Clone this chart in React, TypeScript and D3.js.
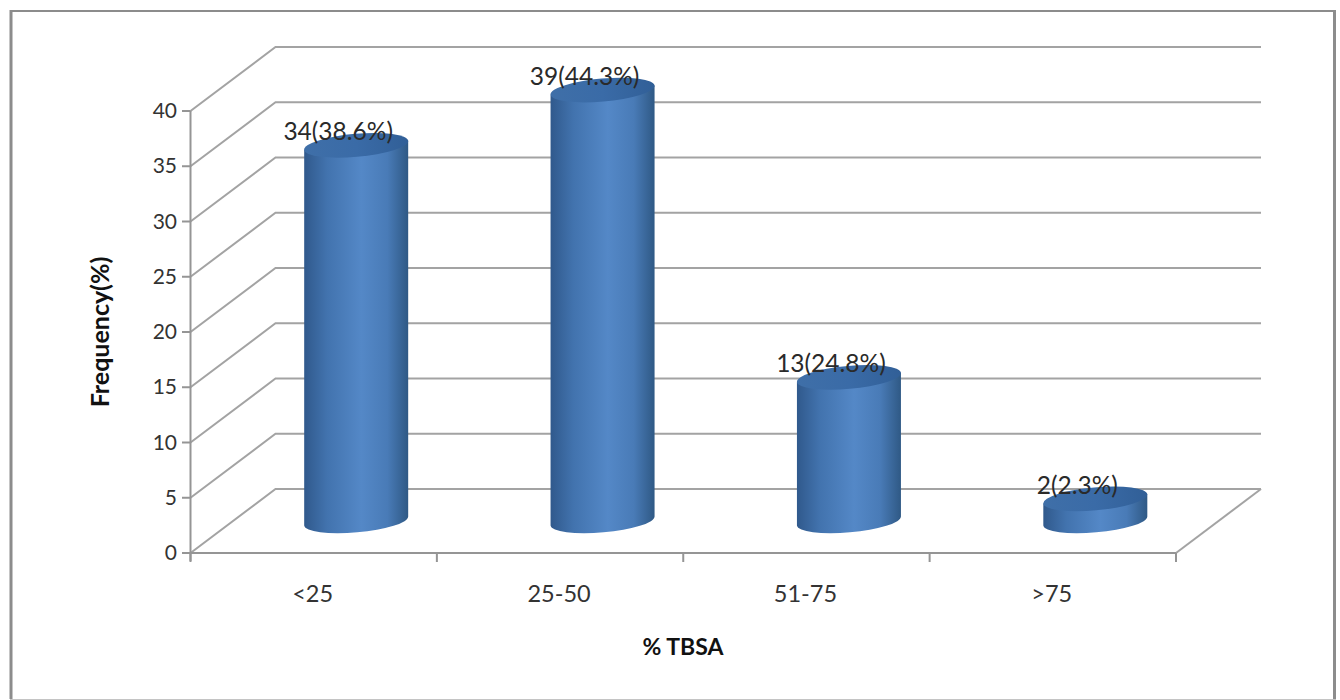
import React from "react";
import * as d3 from "d3";

const categories = ["<25", "25-50", "51-75", ">75"];
const frequencies = [34, 39, 13, 2];
const valueLabels = ["34(38.6%)", "39(44.3%)", "13(24.8%)", "2(2.3%)"];
const yTicks = [0, 5, 10, 15, 20, 25, 30, 35, 40];

const FONT = "Lato, 'Open Sans', sans-serif";
const GRID = "#a3a3a3";
const AXIS = "#959595";
const depthX = 85;
const depthY = -64;

const x = d3.scaleBand<string>().domain(categories).range([190.5, 1176]).paddingInner(0).paddingOuter(0);
const y = d3.scaleLinear().domain([0, 40]).range([553, 111]);

const left = x(categories[0])!;
const right = 1176;
const barHalf = 52;
const tilt = -5;
const ry = 11.5;

export default function App() {
  return (
    <svg
      width={1340}
      height={700}
      style={{ position: "absolute", left: 0, top: 0, background: "#fff", display: "block" }}
      fontFamily={FONT}
    >
      <defs>
        <linearGradient id="side" x1="0" x2="1" y1="0" y2="0">
          <stop offset="0" stopColor="#30598c" />
          <stop offset="0.22" stopColor="#4273ae" />
          <stop offset="0.55" stopColor="#5488c7" />
          <stop offset="0.8" stopColor="#497bb7" />
          <stop offset="1" stopColor="#2f5985" />
        </linearGradient>
        <linearGradient id="cap" x1="0" x2="1" y1="0" y2="0">
          <stop offset="0" stopColor="#3f6fa8" />
          <stop offset="0.5" stopColor="#3a6ba7" />
          <stop offset="1" stopColor="#315f97" />
        </linearGradient>
      </defs>

      {/* frame; its lower edge is faint and sits at the very bottom of the page */}
      <rect x={0} y={0} width={1340} height={700} fill="#fff" />
      <line x1={11} x2={11} y1={10} y2={699} stroke="#8c8c8c" strokeWidth={3} />
      <line x1={10} x2={1336} y1={11} y2={11} stroke="#8c8c8c" strokeWidth={2} />
      <line x1={1334.5} x2={1334.5} y1={10} y2={699} stroke="#8c8c8c" strokeWidth={3} />
      <line x1={10} x2={1336} y1={699.5} y2={699.5} stroke="#c4c4c4" strokeWidth={1} />

      {/* back wall gridlines and their diagonals across the side wall */}
      {yTicks.map((t) => (
        <polyline
          key={t}
          points={`${left},${y(t)} ${left + depthX},${y(t) + depthY} 1261,${y(t) + depthY}`}
          fill="none"
          stroke={GRID}
          strokeWidth={2}
        />
      ))}
      {/* floor edge on the right */}
      <polyline points={`1261,${y(0) + depthY} ${right},${y(0)}`} fill="none" stroke={GRID} strokeWidth={2} />

      {/* axes */}
      <line x1={left} x2={left} y1={y(40)} y2={y(0) + 8} stroke={AXIS} strokeWidth={2} />
      <line x1={182} x2={right} y1={y(0)} y2={y(0)} stroke={AXIS} strokeWidth={2} />
      {yTicks.map((t) => (
        <g key={t}>
          <line x1={182} x2={left} y1={y(t)} y2={y(t)} stroke={AXIS} strokeWidth={2} />
          <text x={177} y={y(t) + 7} textAnchor="end" fontSize={21} fill="#333">
            {t}
          </text>
        </g>
      ))}
      {categories.map((c) => (
        <line key={c} x1={x(c)!} x2={x(c)!} y1={y(0)} y2={y(0) + 9} stroke={AXIS} strokeWidth={2} />
      ))}
      <line x1={right} x2={right} y1={y(0)} y2={y(0) + 9} stroke={AXIS} strokeWidth={2} />
      {categories.map((c) => (
        <text
          key={c}
          x={x(c)! + x.bandwidth() / 2 - 1}
          y={602}
          textAnchor="middle"
          fontSize={23.5}
          fill="#333"
        >
          {c}
        </text>
      ))}

      {/* cylinders, standing halfway into the floor depth */}
      {categories.map((c, i) => {
        const cx = x(c)! + x.bandwidth() / 2 + depthX / 2;
        const baseY = y(0) + depthY / 2;
        const topY = y(frequencies[i]) + depthY / 2;
        const dy = barHalf * Math.tan((-tilt * Math.PI) / 180);
        const side =
          `M${cx - barHalf},${topY + dy} L${cx - barHalf},${baseY + dy} ` +
          `A${barHalf + 0.2},${ry} ${tilt} 0 0 ${cx + barHalf},${baseY - dy} ` +
          `L${cx + barHalf},${topY - dy} Z`;
        return (
          <g key={c}>
            <path d={side} fill="url(#side)" />
            <ellipse
              cx={cx}
              cy={topY}
              rx={barHalf + 0.2}
              ry={ry}
              fill="url(#cap)"
              transform={`rotate(${tilt} ${cx} ${topY})`}
            />
          </g>
        );
      })}

      {/* value labels sit over the cap's back edge */}
      {categories.map((c, i) => {
        const cx = x(c)! + x.bandwidth() / 2 + depthX / 2;
        return (
          <text
            key={c}
            x={cx - 18}
            y={y(frequencies[i]) + depthY / 2 - 5}
            textAnchor="middle"
            fontSize={24.5}
            fill="#2a2a2a"
          >
            {valueLabels[i]}
          </text>
        );
      })}

      <text x={683} y={655} textAnchor="middle" fontSize={23} fontWeight={700} fill="#111">
        % TBSA
      </text>
      <text
        transform="translate(109,332) rotate(-90)"
        textAnchor="middle"
        fontSize={25}
        fontWeight={700}
        fill="#111"
      >
        Frequency(%)
      </text>
    </svg>
  );
}
